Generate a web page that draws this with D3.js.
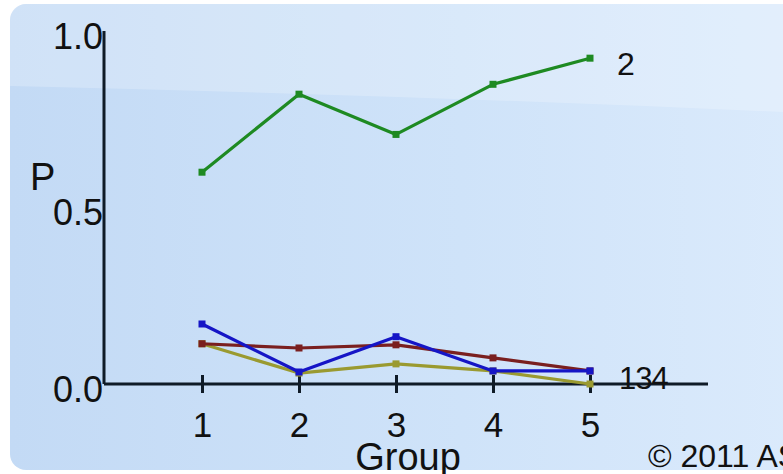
<!DOCTYPE html>
<html><head><meta charset="utf-8">
<script src="https://cdn.jsdelivr.net/npm/d3@7"></script>
<style>html,body{margin:0;padding:0;background:#fff;overflow:hidden}svg{display:block}</style>
</head><body>
<script>
const groups = [1, 2, 3, 4, 5];
const yTicks = [0, 0.5, 1.0];
const series1 = [0.114, 0.102, 0.111, 0.074, 0.037]; // brown
const series2 = [0.600, 0.821, 0.707, 0.849, 0.923]; // green
const series3 = [0.114, 0.031, 0.057, 0.037, 0.000]; // olive
const series4 = [0.170, 0.034, 0.134, 0.037, 0.037]; // blue
const seriesNames = ["1", "2", "3", "4"];
const seriesColors = ["#7a1f1f", "#1e8a22", "#9a9a30", "#1515c6"];
const seriesData = [series1, series2, series3, series4];

const W = 783, H = 474;
const svg = d3.select("body").append("svg").attr("width", W).attr("height", H);
const defs = svg.append("defs");
const g1 = defs.append("linearGradient").attr("id", "bg").attr("x1", 0).attr("x2", 1).attr("y1", 0).attr("y2", 0);
g1.append("stop").attr("offset", "0%").attr("stop-color", "#c3daf5");
g1.append("stop").attr("offset", "55%").attr("stop-color", "#cfe3f9");
g1.append("stop").attr("offset", "100%").attr("stop-color", "#dcebfc");
svg.append("rect").attr("x", 10).attr("y", 4).attr("width", 820).attr("height", 466).attr("rx", 16).attr("fill", "url(#bg)");
// glossy top band
svg.append("path").attr("d", "M10,20 Q10,4 26,4 L783,4 L783,112 Q400,95 10,86 Z").attr("fill", "#ffffff").attr("opacity", 0.22);

const x = d3.scaleLinear().domain([1, 5]).range([202, 590]);
const y = d3.scaleLinear().domain([0, 1]).range([384, 31]);
const font = "Liberation Sans, Arial, sans-serif";
const axisColor = "#0f1b27";

// axes
svg.append("line").attr("x1", 104).attr("x2", 104).attr("y1", y(1)).attr("y2", y(0)).attr("stroke", axisColor).attr("stroke-width", 3);
svg.append("line").attr("x1", 104).attr("x2", 708).attr("y1", y(0)).attr("y2", y(0)).attr("stroke", axisColor).attr("stroke-width", 3);

const xAxis = d3.axisBottom(x).tickValues(groups).tickFormat(d3.format("d")).tickSize(9).tickPadding(0);
const xa = svg.append("g").attr("transform", `translate(0,${y(0)})`).call(xAxis);
xa.select(".domain").remove();
xa.selectAll(".tick line").attr("y1", -9).attr("y2", 9).attr("stroke", axisColor).attr("stroke-width", 3);
xa.selectAll(".tick text").attr("font-family", font).attr("font-size", 35).attr("fill", "#111").attr("dy", null).attr("y", 53);

const yAxis = d3.axisLeft(y).tickValues(yTicks).tickFormat(d3.format(".1f")).tickSize(0).tickPadding(0);
const ya = svg.append("g").attr("transform", "translate(103,0)").call(yAxis);
ya.select(".domain").remove();
ya.selectAll(".tick text").attr("font-family", font).attr("font-size", 36).attr("fill", "#111").attr("dy", null).attr("y", 17).attr("x", 0);

svg.append("text").attr("x", 30).attr("y", 190).attr("font-family", font).attr("font-size", 38).attr("fill", "#111").text("P");
svg.append("text").attr("x", 408).attr("y", 470).attr("text-anchor", "middle").attr("font-family", font).attr("font-size", 38).attr("fill", "#111").text("Group");
svg.append("text").attr("x", 648).attr("y", 467).attr("font-family", font).attr("font-size", 32).attr("fill", "#111").text("© 2011 ASCO");

const line = d3.line().x((d, i) => x(groups[i])).y(d => y(d));
const order = [2, 0, 3, 1];
order.forEach(k => {
  const data = seriesData[k];
  svg.append("path").datum(data).attr("d", line).attr("fill", "none").attr("stroke", seriesColors[k]).attr("stroke-width", 3.2).attr("stroke-linejoin", "round");
  svg.selectAll(null).data(data).enter().append("rect")
    .attr("x", (d, i) => x(groups[i]) - 3.5).attr("y", d => y(d) - 3.5)
    .attr("width", 7).attr("height", 7).attr("fill", seriesColors[k]);
});

// end labels
svg.append("text").attr("x", 617).attr("y", 75).attr("font-family", font).attr("font-size", 32).attr("fill", "#111").text(seriesNames[1]);
svg.append("text").attr("x", 619).attr("y", 389).attr("font-family", font).attr("font-size", 31).attr("fill", "#111").attr("letter-spacing", -1).text(seriesNames[0] + seriesNames[2] + seriesNames[3]);
</script>
</body></html>
